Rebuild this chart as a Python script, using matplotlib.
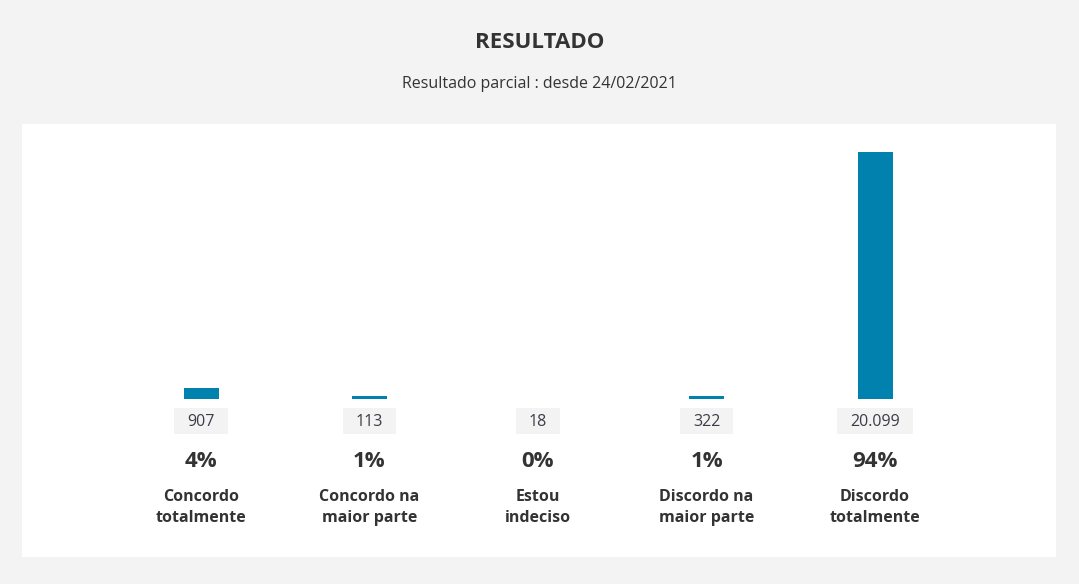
import matplotlib
matplotlib.use("Agg")
import matplotlib.pyplot as plt
from matplotlib.patches import Rectangle

categories = ["Concordo\ntotalmente", "Concordo na\nmaior parte", "Estou\nindeciso",
              "Discordo na\nmaior parte", "Discordo\ntotalmente"]
count_labels = ["907", "113", "18", "322", "20.099"]
percentages = [4, 1, 0, 1, 94]

title = "RESULTADO"
subtitle = "Resultado parcial : desde 24/02/2021"

W, H = 1079, 584
DPI = 100
plt.rcParams['font.family'] = ['Open Sans', 'DejaVu Sans']

fig = plt.figure(figsize=(W / DPI, H / DPI), dpi=DPI)
fig.patch.set_facecolor('#f3f3f3')

def fx(px):
    return px / W

def fy(py):
    return 1 - py / H

# white panel
fig.patches.append(Rectangle((fx(22), fy(557)), fx(1056 - 22), (557 - 124) / H,
                             transform=fig.transFigure, facecolor='white',
                             edgecolor='none', zorder=0))

fig.text(0.5, fy(43), title, ha='center', va='center', fontsize=16,
         fontweight='bold', color='#333333')
fig.text(0.5, fy(84), subtitle, ha='center', va='center', fontsize=11.5,
         color='#333333')

step = 168.5
left_px = 201 - step / 2
ax = fig.add_axes([fx(left_px), fy(399), fx(step * 5), (399 - 152) / H])
ax.set_zorder(2)
ax.set_xlim(-0.5, 4.5)
ax.set_ylim(0, max(percentages))
ax.axis('off')
ax.patch.set_alpha(0)

xs = list(range(len(categories)))
ax.bar(xs, percentages, width=35 / step, color='#0081ae')

def ay(py):
    return (399 - py) / (399 - 152)

tr = ax.get_xaxis_transform()
count_texts = []
for i, (cl, p, cat) in enumerate(zip(count_labels, percentages, categories)):
    t = ax.text(i, ay(422.5), cl, transform=tr, ha='center', va='center',
                fontsize=11.5, color='#3c3c48', clip_on=False, zorder=3)
    count_texts.append(t)
    ax.text(i, ay(461.5), f"{p}%", transform=tr, ha='center', va='center',
            fontsize=16, fontweight='bold', color='#333333', clip_on=False)
    ax.text(i, ay(507.5), cat, transform=tr, ha='center', va='center',
            fontsize=11.5, fontweight='bold', color='#333333', clip_on=False,
            linespacing=1.45)

fig.canvas.draw()
renderer = fig.canvas.get_renderer()
for t in count_texts:
    bb = t.get_window_extent(renderer)
    w = bb.width + 26
    cx = (bb.x0 + bb.x1) / 2
    x0 = cx - w / 2
    fig.patches.append(Rectangle((x0 / W, fy(434)), w / W, 26 / H,
                                 transform=fig.transFigure, facecolor='#f3f3f3',
                                 edgecolor='none', zorder=1))

fig.savefig('out.png', dpi=DPI, facecolor=fig.get_facecolor())
